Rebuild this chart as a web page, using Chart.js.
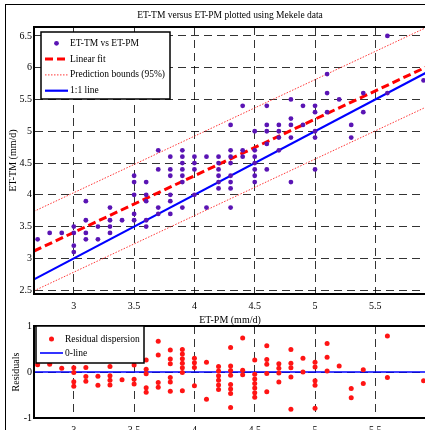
<!DOCTYPE html>
<html>
<head>
<meta charset="utf-8">
<title>ET-TM versus ET-PM</title>
<script src="https://cdn.jsdelivr.net/npm/chart.js@4.4.0/dist/chart.umd.min.js"></script>
<style>
  html, body { margin: 0; padding: 0; background: #fff; overflow: hidden; }
  #figure { position: relative; width: 425px; height: 430px; overflow: hidden; }
  #frame {
    position: absolute; left: 5px; top: 4px; width: 500px; height: 500px;
    border-left: 1px solid #000; border-top: 1px solid #000;
  }
  #fitChart { position: absolute; left: 0; top: 0; }
  #residChart { position: absolute; left: 0; top: 316px; }
</style>
</head>
<body>
<div id="figure">
  <div id="frame"></div>
  <canvas id="fitChart" width="430" height="326"></canvas>
  <canvas id="residChart" width="430" height="130"></canvas>
</div>
<script>
(function () {
    'use strict';

    // Daily reference evapotranspiration, Mekele (mm/d)
    const etPM = [
        2.7, 2.8, 2.9,
        3.0, 3.0, 3.0, 3.0,
        3.1, 3.1, 3.1, 3.1,
        3.2, 3.2,
        3.3, 3.3, 3.3, 3.3,
        3.4,
        3.5, 3.5, 3.5, 3.5, 3.5,
        3.6, 3.6, 3.6, 3.6, 3.6,
        3.7, 3.7, 3.7, 3.7,
        3.8, 3.8, 3.8, 3.8, 3.8, 3.8,
        3.9, 3.9, 3.9, 3.9, 3.9, 3.9, 3.9,
        4.0, 4.0, 4.0, 4.0,
        4.1, 4.1,
        4.2, 4.2, 4.2, 4.2, 4.2, 4.2,
        4.3, 4.3, 4.3, 4.3, 4.3, 4.3, 4.3, 4.3,
        4.4, 4.4, 4.4,
        4.5, 4.5, 4.5, 4.5, 4.5, 4.5, 4.5,
        4.6, 4.6, 4.6, 4.6, 4.6,
        4.7, 4.7, 4.7, 4.7,
        4.8, 4.8, 4.8, 4.8, 4.8,
        4.9, 4.9,
        5.0, 5.0, 5.0, 5.0, 5.0,
        5.1, 5.1, 5.1,
        5.2,
        5.3, 5.3,
        5.4, 5.4,
        5.6, 5.6,
        5.9
    ];
    const etTM = [
        3.3, 3.4, 3.4,
        3.5, 3.4, 3.2, 3.1,
        3.9, 3.6, 3.4, 3.3,
        3.5, 3.3,
        3.8, 3.6, 3.5, 3.4,
        3.6,
        4.3, 4.2, 4.0, 3.7, 3.6,
        4.2, 4.0, 3.9, 3.6, 3.5,
        4.7, 4.4, 3.8, 3.7,
        4.6, 4.4, 4.3, 4.0, 3.9, 3.7,
        4.7, 4.6, 4.5, 4.4, 4.3, 4.2, 3.8,
        4.6, 4.5, 4.4, 4.0,
        4.6, 3.8,
        4.6, 4.5, 4.4, 4.3, 4.2, 4.1,
        5.1, 4.7, 4.6, 4.5, 4.3, 4.2, 4.1, 3.8,
        5.4, 4.7, 4.6,
        5.0, 4.7, 4.6, 4.5, 4.4, 4.3, 4.2,
        5.4, 5.1, 5.0, 4.8, 4.4,
        5.1, 5.0, 4.9, 4.7,
        5.5, 5.2, 5.1, 4.9, 4.2,
        5.4, 5.1,
        5.4, 5.3, 5.0, 4.9, 4.4,
        5.9, 5.6, 5.3,
        5.5,
        5.1, 4.9,
        5.6, 5.3,
        6.5, 5.6,
        5.8
    ];
    const residuals = [
        0.16, 0.17, 0.08,
        0.09, -0.01, -0.21, -0.31,
        0.40, 0.10, -0.10, -0.20,
        -0.09, -0.29,
        0.12, -0.08, -0.18, -0.28,
        -0.17,
        0.45, 0.35, 0.15, -0.16, -0.26,
        0.26, 0.06, -0.04, -0.34, -0.44,
        0.67, 0.37, -0.23, -0.33,
        0.48, 0.28, 0.18, -0.12, -0.22, -0.42,
        0.49, 0.39, 0.29, 0.19, 0.09, -0.01, -0.41,
        0.30, 0.20, 0.10, -0.30,
        0.21, -0.59,
        0.12, 0.02, -0.08, -0.18, -0.28, -0.38,
        0.53, 0.13, 0.03, -0.07, -0.27, -0.37, -0.47, -0.77,
        0.74, 0.04, -0.06,
        0.26, -0.05, -0.15, -0.25, -0.35, -0.45, -0.55,
        0.57, 0.27, 0.17, -0.03, -0.43,
        0.18, 0.08, -0.02, -0.22,
        0.49, 0.19, 0.09, -0.11, -0.81,
        0.30, 0.00,
        0.21, 0.11, -0.19, -0.29, -0.79,
        0.62, 0.32, 0.02,
        0.13,
        -0.36, -0.56,
        0.05, -0.25,
        0.78, -0.12,
        -0.19
    ];

    // Line end points across the axis range
    const lineX = [2.67, 5.92];
    const fitY = [3.116, 6.009];
    const upperBoundY = [3.74, 6.63];
    const lowerBoundY = [2.49, 5.38];
    const oneToOneY = [2.67, 5.92];
    const zeroY = [0, 0];

    // Axis ticks
    const pmTicks = [3, 3.5, 4, 4.5, 5, 5.5];
    const tmTicks = [2.5, 3, 3.5, 4, 4.5, 5, 5.5, 6, 6.5];
    const residTicks = [-1, 0, 1];

    const SERIF = "'Liberation Serif', 'Times New Roman', serif";
    const GRID = 'rgba(0, 0, 0, 0.8)';

    function pairs(xs, ys) {
        return xs.map((x, i) => ({ x: x, y: ys[i] }));
    }

    function fixedTicks(values) {
        return function (scale) {
            scale.ticks = values.map(v => ({ value: v }));
        };
    }

    function axis(opts) {
        return {
            type: 'linear',
            min: opts.min,
            max: opts.max,
            afterBuildTicks: fixedTicks(opts.ticks),
            afterFit: opts.fit,
            grid: { color: GRID, lineWidth: 1, drawTicks: false, tickLength: 0 },
            border: { display: true, color: '#000', width: 2, dash: [8, 5] },
            ticks: {
                color: '#000',
                font: { family: SERIF, size: 10 },
                padding: opts.pad,
                autoSkip: false,
                maxRotation: 0,
                callback: v => String(v)
            },
            title: {
                display: !!opts.title,
                text: opts.title || '',
                color: '#000',
                font: { family: SERIF, size: 10 },
                padding: { top: opts.titlePad || 0, bottom: 0 }
            }
        };
    }

    // Axes title centred over the plot area
    const axesTitle = {
        id: 'axesTitle',
        afterDraw(chart, args, opts) {
            if (!opts.text) return;
            const { ctx, chartArea } = chart;
            ctx.save();
            ctx.font = `${opts.size}px ${SERIF}`;
            ctx.fillStyle = '#000';
            ctx.textAlign = 'center';
            ctx.textBaseline = 'middle';
            ctx.fillText(opts.text, (chartArea.left + chartArea.right) / 2, opts.y);
            ctx.restore();
        }
    };

    // Solid box round the plot area
    const axesFrame = {
        id: 'axesFrame',
        afterDatasetsDraw(chart) {
            const { ctx, chartArea: a } = chart;
            ctx.save();
            ctx.setLineDash([]);
            ctx.lineWidth = 2;
            ctx.strokeStyle = '#000';
            ctx.strokeRect(a.left, a.top, a.right - a.left, a.bottom - a.top);
            ctx.restore();
        }
    };

    // Boxed legend built from the labelled datasets
    const boxLegend = {
        id: 'boxLegend',
        afterDraw(chart, args, opts) {
            const { ctx } = chart;
            const b = opts.box;
            ctx.save();
            ctx.setLineDash([]);
            ctx.fillStyle = '#fff';
            ctx.fillRect(b.x, b.y, b.w, b.h);
            ctx.lineWidth = 1.5;
            ctx.strokeStyle = '#000';
            ctx.strokeRect(b.x, b.y, b.w, b.h);
            ctx.font = `${opts.size}px ${SERIF}`;
            ctx.textAlign = 'left';
            ctx.textBaseline = 'middle';

            let y = b.y + opts.firstRow;
            chart.data.datasets.forEach(ds => {
                if (!ds.label) return;
                if (ds.showLine) {
                    ctx.beginPath();
                    ctx.setLineDash(ds.borderDash || []);
                    ctx.lineWidth = ds.borderWidth;
                    ctx.strokeStyle = ds.borderColor;
                    ctx.moveTo(opts.sampleX0, y);
                    ctx.lineTo(opts.sampleX1, y);
                    ctx.stroke();
                    ctx.setLineDash([]);
                } else {
                    ctx.beginPath();
                    ctx.fillStyle = ds.backgroundColor;
                    ctx.arc((opts.sampleX0 + opts.sampleX1) / 2, y, ds.pointRadius, 0, Math.PI * 2);
                    ctx.fill();
                }
                ctx.fillStyle = '#000';
                ctx.fillText(ds.label, opts.textX, y);
                y += opts.rowGap;
            });
            ctx.restore();
        }
    };

    function lineSet(label, ys, color, width, dash) {
        return {
            label: label,
            data: pairs(lineX, ys),
            showLine: true,
            borderColor: color,
            borderWidth: width,
            borderDash: dash,
            pointRadius: 0,
            fill: false,
            tension: 0
        };
    }

    const common = {
        responsive: false,
        animation: false,
        devicePixelRatio: 1,
        events: []
    };

    // Measured against reference evapotranspiration
    new Chart(document.getElementById('fitChart'), {
        type: 'scatter',
        data: {
            datasets: [
                {
                    label: 'ET-TM vs ET-PM',
                    data: pairs(etPM, etTM),
                    backgroundColor: '#5a14b4',
                    borderWidth: 0,
                    pointRadius: 2.4
                },
                lineSet('Linear fit', fitY, '#ff0000', 3, [8, 4]),
                lineSet('Prediction bounds (95%)', upperBoundY, 'rgba(255, 20, 20, 0.85)', 1, [1.5, 1.5]),
                lineSet(undefined, lowerBoundY, 'rgba(255, 20, 20, 0.85)', 1, [1.5, 1.5]),
                lineSet('1:1 line', oneToOneY, '#0000ff', 2.2, [])
            ]
        },
        options: Object.assign({}, common, {
            layout: { padding: { left: 0, top: 27, right: 4, bottom: 0 } },
            scales: {
                x: axis({ min: 2.67, max: 5.92, ticks: pmTicks, pad: 6, title: 'ET-PM (mm/d)',
                          fit: s => { s.height = 32; } }),
                y: axis({ min: 2.44, max: 6.64, ticks: tmTicks, pad: 2, title: 'ET-TM (mm/d)', titlePad: 7,
                          fit: s => { s.width = 34; } })
            },
            plugins: {
                legend: { display: false },
                tooltip: { enabled: false },
                axesTitle: { text: 'ET-TM versus ET-PM plotted using Mekele data', size: 9.5, y: 15 },
                boxLegend: {
                    box: { x: 41, y: 32, w: 129, h: 67 },
                    size: 9.5, firstRow: 11.3, rowGap: 15.8,
                    sampleX0: 45, sampleX1: 68, textX: 70
                }
            }
        }),
        plugins: [axesFrame, axesTitle, boxLegend]
    });

    // Residuals of the linear fit
    new Chart(document.getElementById('residChart'), {
        type: 'scatter',
        data: {
            datasets: [
                {
                    label: 'Residual dispersion',
                    data: pairs(etPM, residuals),
                    backgroundColor: '#ff1414',
                    borderWidth: 0,
                    pointRadius: 2.5
                },
                lineSet('0-line', zeroY, '#0000ff', 1.6, [])
            ]
        },
        options: Object.assign({}, common, {
            layout: { padding: { left: 0, top: 10, right: 4, bottom: 0 } },
            scales: {
                x: axis({ min: 2.67, max: 5.92, ticks: pmTicks, pad: 6,
                          fit: s => { s.height = 28; } }),
                y: axis({ min: -1, max: 1, ticks: residTicks, pad: 2, title: 'Residuals', titlePad: 10,
                          fit: s => { s.width = 34; } })
            },
            plugins: {
                legend: { display: false },
                tooltip: { enabled: false },
                boxLegend: {
                    box: { x: 36, y: 10, w: 108, h: 37 },
                    size: 9.5, firstRow: 13, rowGap: 14,
                    sampleX0: 40, sampleX1: 63, textX: 65
                }
            }
        }),
        plugins: [axesFrame, boxLegend]
    });
})();
</script>
</body>
</html>
